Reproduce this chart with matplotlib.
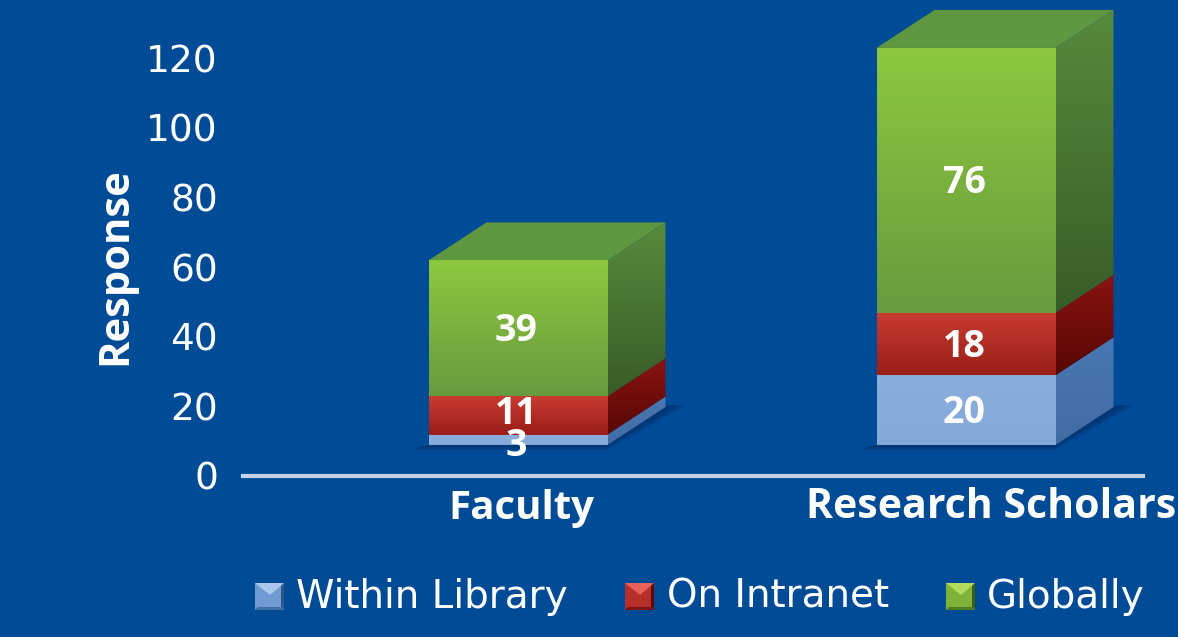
import numpy as np
import matplotlib
matplotlib.use('Agg')
import matplotlib.pyplot as plt
from matplotlib.patches import Polygon

categories = ['Faculty', 'Research Scholars']
within_library = [3, 20]
on_intranet = [11, 18]
globally = [39, 76]
series_names = ['Within Library', 'On Intranet', 'Globally']
y_ticks = [0, 20, 40, 60, 80, 100, 120]

BG = '#004b96'
W, H = 1178, 637
# pixel layout of the plot area
X0_PX, X1_PX, Y0_PX = 243, 1143, 476
PX_PER_UNIT = 3.483
PX_PER_CAT = 448
CAT0_PX = 518

# colours: front top, front bottom, side top, side bottom
colors = [
    ('#8bafdc', '#84a8d8', '#4a77b2', '#426ca5'),
    ('#c93b31', '#981e18', '#8a1410', '#560705'),
    ('#8cc83f', '#689a3e', '#578a3c', '#385c28'),
]
swatch = [('#a9c8ec', '#6f9bd2', '#3f6ea8', '#2f5689'),
          ('#e8605c', '#b72f28', '#7c1511', '#5a0b08'),
          ('#b3dc5c', '#7fb239', '#4f7d24', '#3a5f18')]

plt.rcParams['font.family'] = ['Open Sans', 'DejaVu Sans']
fig = plt.figure(figsize=(W / 100, H / 100), dpi=100, facecolor=BG)
ax = fig.add_axes([X0_PX / W, 1 - Y0_PX / H, (X1_PX - X0_PX) / W, Y0_PX / H])
ax.set_facecolor('none')
xlim = ((X0_PX - CAT0_PX) / PX_PER_CAT, (X1_PX - CAT0_PX) / PX_PER_CAT)
ylim = (0, Y0_PX / PX_PER_UNIT)

half = 89.5 / PX_PER_CAT
dx = 58 / PX_PER_CAT
dy = 38 / PX_PER_UNIT
floor = 31 / PX_PER_UNIT


def grad_poly(pts, c_top, c_bot, zorder):
    pts = np.array(pts)
    poly = Polygon(pts, closed=True, transform=ax.transData, facecolor='none', edgecolor='none')
    ax.add_patch(poly)
    rgb0 = np.array(matplotlib.colors.to_rgb(c_top))
    rgb1 = np.array(matplotlib.colors.to_rgb(c_bot))
    t = np.linspace(0, 1, 128)[:, None, None]
    img = rgb0[None, None, :] * (1 - t) + rgb1[None, None, :] * t
    im = ax.imshow(img, aspect='auto', zorder=zorder, interpolation='bilinear',
                   extent=(pts[:, 0].min(), pts[:, 0].max(), pts[:, 1].min(), pts[:, 1].max()))
    im.set_clip_path(poly)


for i in range(len(categories)):
    # soft floor shadow under the block
    b = floor
    for grow, alpha in [(1.0, 0.18), (0.75, 0.24), (0.5, 0.30)]:
        sx = 22 * grow / PX_PER_CAT
        sy = 5 * grow / PX_PER_UNIT
        ax.add_patch(Polygon([(i - half - sx, b - sy), (i + half, b - sy),
                              (i + half + dx + sx, b + dy + sy * 0.5), (i + half, b + dy)],
                             facecolor='#002a60', alpha=alpha, edgecolor='none', zorder=1))
    bottom = 0
    for s, vals in enumerate([within_library, on_intranet, globally]):
        top = bottom + vals[i]
        y0, y1 = bottom + floor, top + floor
        c = colors[s]
        grad_poly([(i - half, y0), (i + half, y0), (i + half, y1), (i - half, y1)], c[0], c[1], 3)
        grad_poly([(i + half, y0), (i + half + dx, y0 + dy), (i + half + dx, y1 + dy), (i + half, y1)],
                  c[2], c[3], 2)
        if s == 2:
            ax.add_patch(Polygon([(i - half, y1), (i + half, y1), (i + half + dx, y1 + dy),
                                  (i - half + dx, y1 + dy)], facecolor='#5f9640',
                                 edgecolor='none', zorder=2))
        nudge = -3 / PX_PER_UNIT
        nudge += -3 / PX_PER_UNIT if vals[i] < 5 else 0
        nudge += 4 / PX_PER_UNIT if vals[i] == 11 else 0
        ax.text(i - 2 / PX_PER_CAT, (y0 + y1) / 2 + nudge, str(vals[i]), color='white',
                fontsize=27, fontweight='bold', ha='center', va='center', zorder=6)
        bottom = top

ax.set_xlim(xlim)
ax.set_ylim(ylim)
for side in ['top', 'right', 'left']:
    ax.spines[side].set_visible(False)
ax.spines['bottom'].set_color('#c5d3e8')
ax.spines['bottom'].set_linewidth(3)
ax.set_yticks(y_ticks)
ax.tick_params(axis='y', length=0, labelsize=27, labelcolor='white', pad=18)
for lab in ax.get_yticklabels():
    lab.set_family('DejaVu Sans')
ax.set_xticks([])
ax.patch.set_visible(False)

# category names sit under the bars, second one pushed right in the original
ax.text(0 + 3 / PX_PER_CAT, -32 / PX_PER_UNIT, categories[0], color='white', fontsize=29,
        fontweight='bold', ha='center', va='center', clip_on=False)
ax.text(1 + 25 / PX_PER_CAT, -32 / PX_PER_UNIT, categories[1], color='white', fontsize=29.5,
        fontweight='bold', ha='center', va='center', clip_on=False)
fig.text(116 / W, 1 - 266 / H, 'Response', color='white', fontsize=30, fontweight='bold',
         rotation=90, ha='center', va='center')

# legend drawn by hand for the bevelled swatches
lax = fig.add_axes([0, 0, 1, 1])
lax.set_xlim(0, W)
lax.set_ylim(H, 0)
lax.axis('off')
for name, x_sw, x_txt, c in zip(series_names, [255, 625, 946], [296, 667, 987], swatch):
    y0, y1 = 583, 610
    x1 = x_sw + 29
    lax.add_patch(Polygon([(x_sw, y0), (x1, y0), (x1, y1), (x_sw, y1)], facecolor=c[1], edgecolor='none'))
    lax.add_patch(Polygon([(x_sw, y0), (x1, y0), (x_sw + 15, y0 + 12)], facecolor=c[0], edgecolor='none'))
    lax.add_patch(Polygon([(x1, y0), (x1, y1), (x1 - 3, y1 - 3), (x1 - 3, y0 + 3)], facecolor=c[3], edgecolor='none'))
    lax.add_patch(Polygon([(x_sw, y1), (x1, y1), (x1 - 3, y1 - 3), (x_sw + 3, y1 - 3)], facecolor=c[2], edgecolor='none'))
    lax.text(x_txt, 597, name, color='white', fontsize=28, ha='left', va='center', family='DejaVu Sans')

fig.savefig('out.png', dpi=100, facecolor=BG)
